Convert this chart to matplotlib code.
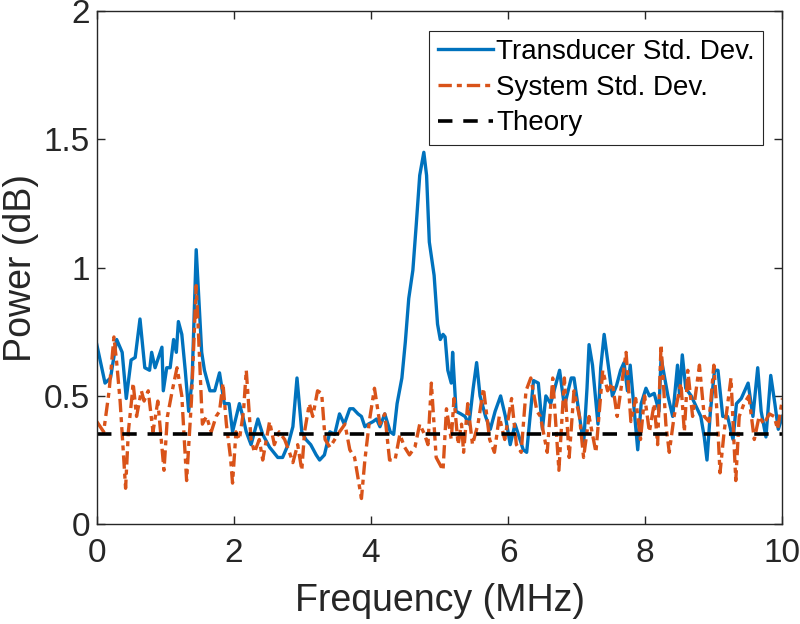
import numpy as np
import matplotlib
matplotlib.use('Agg')
import matplotlib.pyplot as plt

# Transducer std. dev. (blue)
freq_td = [0.0, 0.12, 0.2, 0.29, 0.37, 0.43, 0.5, 0.56, 0.63, 0.7, 0.77, 0.8, 0.85, 0.9,
           0.95, 0.97, 1.02, 1.07, 1.12, 1.16, 1.19, 1.24, 1.29, 1.34, 1.39, 1.45, 1.53,
           1.57, 1.65, 1.72, 1.79, 1.86, 1.93, 1.98, 2.08, 2.13, 2.18, 2.25, 2.35, 2.42,
           2.52, 2.64, 2.71, 2.79, 2.86, 2.92, 2.99, 3.05, 3.12, 3.2, 3.25, 3.32, 3.4,
           3.47, 3.54, 3.61, 3.69, 3.74, 3.81, 3.86, 3.91, 3.96, 4.03, 4.08, 4.13, 4.2,
           4.28, 4.33, 4.38, 4.45, 4.5, 4.55, 4.61, 4.66, 4.71, 4.77, 4.81, 4.85, 4.92,
           4.97, 5.01, 5.05, 5.08, 5.12, 5.17, 5.19, 5.24, 5.31, 5.37, 5.43, 5.49, 5.54,
           5.59, 5.67, 5.74, 5.81, 5.89, 5.96, 6.03, 6.1, 6.22, 6.27, 6.32, 6.37, 6.44,
           6.5, 6.55, 6.62, 6.75, 6.82, 6.92, 6.96, 7.04, 7.1, 7.15, 7.18, 7.23, 7.31,
           7.35, 7.4, 7.46, 7.52, 7.58, 7.64, 7.69, 7.74, 7.78, 7.84, 7.89, 7.94, 8.01,
           8.06, 8.13, 8.2, 8.23, 8.33, 8.4, 8.47, 8.5, 8.54, 8.59, 8.67, 8.81, 8.86, 8.9,
           8.95, 9.01, 9.06, 9.13, 9.2, 9.28, 9.33, 9.4, 9.5, 9.57, 9.64, 9.69, 9.76,
           9.83, 9.89, 9.94, 10.0]
power_td = [0.70, 0.55, 0.57, 0.72, 0.67, 0.49, 0.64, 0.65, 0.80, 0.61, 0.60, 0.67, 0.61, 0.65,
            0.69, 0.52, 0.61, 0.61, 0.72, 0.67, 0.79, 0.74, 0.60, 0.44, 0.56, 1.07, 0.67,
            0.60, 0.52, 0.52, 0.59, 0.47, 0.47, 0.36, 0.47, 0.42, 0.36, 0.31, 0.41, 0.35,
            0.30, 0.26, 0.26, 0.31, 0.38, 0.57, 0.36, 0.33, 0.31, 0.27, 0.25, 0.27, 0.36,
            0.35, 0.43, 0.39, 0.45, 0.45, 0.43, 0.42, 0.38, 0.39, 0.40, 0.41, 0.38, 0.43,
            0.36, 0.35, 0.47, 0.57, 0.71, 0.88, 0.99, 1.17, 1.36, 1.45, 1.36, 1.10, 0.97,
            0.78, 0.72, 0.74, 0.73, 0.60, 0.55, 0.67, 0.44, 0.43, 0.42, 0.39, 0.53, 0.63,
            0.50, 0.42, 0.37, 0.44, 0.50, 0.42, 0.31, 0.39, 0.29, 0.28, 0.42, 0.56, 0.55,
            0.37, 0.50, 0.47, 0.60, 0.46, 0.57, 0.57, 0.42, 0.31, 0.53, 0.70, 0.62, 0.39,
            0.61, 0.74, 0.62, 0.50, 0.54, 0.60, 0.63, 0.52, 0.62, 0.44, 0.29, 0.47, 0.53,
            0.50, 0.51, 0.44, 0.65, 0.50, 0.42, 0.62, 0.50, 0.66, 0.53, 0.50, 0.42, 0.34, 0.25,
            0.44, 0.60, 0.60, 0.42, 0.42, 0.33, 0.47, 0.49, 0.55, 0.42, 0.61, 0.44, 0.34,
            0.58, 0.47, 0.37, 0.42]

# System std. dev. (orange)
freq_sys = [0.0, 0.1, 0.18, 0.25, 0.29, 0.34, 0.42, 0.46, 0.51, 0.53, 0.58, 0.65, 0.69,
            0.75, 0.82, 0.89, 0.98, 1.03, 1.1, 1.17, 1.24, 1.31, 1.38, 1.45, 1.48, 1.54,
            1.6, 1.67, 1.74, 1.79, 1.84, 1.89, 1.95, 1.98, 2.03, 2.08, 2.14, 2.18, 2.25,
            2.3, 2.37, 2.42, 2.52, 2.59, 2.66, 2.74, 2.81, 2.86, 2.93, 2.99, 3.03, 3.1,
            3.15, 3.22, 3.28, 3.33, 3.4, 3.47, 3.54, 3.62, 3.69, 3.76, 3.86, 3.91, 3.98,
            4.05, 4.13, 4.2, 4.27, 4.35, 4.42, 4.49, 4.56, 4.64, 4.71, 4.78, 4.83, 4.88,
            4.95, 5.05, 5.1, 5.17, 5.21, 5.27, 5.32, 5.35, 5.41, 5.48, 5.56, 5.64, 5.73,
            5.8, 5.87, 5.95, 6.05, 6.12, 6.19, 6.26, 6.33, 6.42, 6.47, 6.57, 6.65, 6.74,
            6.82, 6.89, 6.96, 7.04, 7.1, 7.18, 7.28, 7.38, 7.45, 7.52, 7.59, 7.72, 7.79,
            7.86, 7.93, 7.99, 8.06, 8.13, 8.18, 8.23, 8.3, 8.35, 8.42, 8.52, 8.57, 8.62,
            8.69, 8.79, 8.86, 8.93, 9.0, 9.05, 9.09, 9.15, 9.25, 9.32, 9.37, 9.44, 9.51,
            9.59, 9.66, 9.73, 9.81, 9.88, 9.93, 10.0]
power_sys = [0.40, 0.36, 0.52, 0.73, 0.63, 0.48, 0.14, 0.36, 0.49, 0.55, 0.42, 0.52, 0.48,
             0.52, 0.36, 0.48, 0.21, 0.42, 0.52, 0.61, 0.50, 0.17, 0.48, 0.93, 0.76, 0.39,
             0.42, 0.36, 0.42, 0.44, 0.55, 0.39, 0.26, 0.16, 0.36, 0.33, 0.44, 0.60, 0.33,
             0.28, 0.33, 0.25, 0.40, 0.31, 0.36, 0.33, 0.28, 0.24, 0.31, 0.21, 0.36, 0.47,
             0.42, 0.52, 0.51, 0.33, 0.30, 0.33, 0.36, 0.39, 0.29, 0.26, 0.10, 0.25, 0.41,
             0.53, 0.39, 0.43, 0.25, 0.25, 0.35, 0.30, 0.27, 0.30, 0.39, 0.35, 0.31, 0.55,
             0.26, 0.21, 0.45, 0.33, 0.49, 0.31, 0.39, 0.28, 0.47, 0.31, 0.39, 0.53, 0.33,
             0.28, 0.42, 0.33, 0.49, 0.31, 0.28, 0.52, 0.57, 0.44, 0.42, 0.28, 0.57, 0.21,
             0.57, 0.26, 0.52, 0.42, 0.26, 0.42, 0.28, 0.60, 0.52, 0.55, 0.42, 0.67, 0.40,
             0.49, 0.33, 0.50, 0.36, 0.47, 0.31, 0.70, 0.39, 0.28, 0.42, 0.55, 0.36, 0.60,
             0.42, 0.62, 0.42, 0.40, 0.62, 0.42, 0.20, 0.36, 0.57, 0.17, 0.42, 0.47, 0.50,
             0.33, 0.42, 0.39, 0.43, 0.42, 0.37, 0.49]

theory_level = 0.35
freq_range = [0, 10]

blue = '#0072BD'
orange = '#D95319'
ink = '#262626'

plt.rcParams['font.family'] = ['Liberation Sans', 'DejaVu Sans']

fig = plt.figure(figsize=(8, 6.24), dpi=100)
ax = fig.add_axes([0.121, 0.160, 0.857, 0.822])

ax.plot(freq_td, power_td, color=blue, lw=2.4, label='Transducer Std. Dev.')
ax.plot(freq_sys, power_sys, color=orange, lw=2.4, ls=(0, (4, 1.5, 1.5, 1.5)),
        label='System Std. Dev.')
ax.plot(freq_range, [theory_level, theory_level], color='black', lw=2.6,
        ls=(0, (4, 3)), label='Theory')

ax.set_xlim(0, 10)
ax.set_ylim(0, 2)
ax.set_xticks([0, 2, 4, 6, 8, 10])
ax.set_yticks([0, 0.5, 1, 1.5, 2])
ax.set_yticklabels(['0', '0.5', '1', '1.5', '2'])
ax.tick_params(direction='in', top=True, right=True, labelsize=24, length=6,
               width=1, colors=ink)
ax.tick_params(axis='x', pad=10)
ax.tick_params(axis='y', pad=5)
for s in ax.spines.values():
    s.set_color(ink)
    s.set_linewidth(1)

ax.set_xlabel('Frequency (MHz)', fontsize=27, color=ink, labelpad=10)
ax.set_ylabel('Power (dB)', fontsize=27, color=ink, labelpad=3)

leg = ax.legend(loc='upper right', fontsize=20, handlelength=2.0, handletextpad=0.1,
                borderpad=0.3, labelspacing=0.35, fancybox=False, framealpha=1,
                borderaxespad=0.7)
leg.get_frame().set_edgecolor(ink)
leg.get_frame().set_linewidth(0.8)

fig.savefig('out.png', dpi=100)
